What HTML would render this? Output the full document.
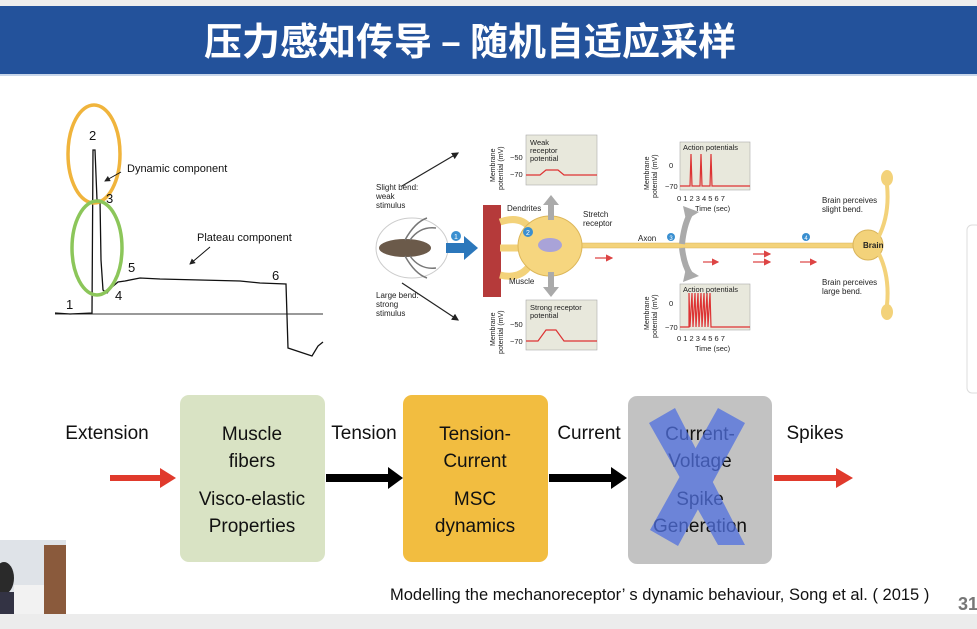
<!DOCTYPE html>
<html><head><meta charset="utf-8"><style>
html,body{margin:0;padding:0;background:#fff;}
body{width:977px;height:629px;overflow:hidden;position:relative;font-family:"Liberation Sans","Noto Sans CJK SC",sans-serif;}
</style></head><body>
<svg width="977" height="629" viewBox="0 0 977 629" xmlns="http://www.w3.org/2000/svg" style="position:absolute;left:0;top:0">
<defs>
<marker id="ah" markerWidth="6" markerHeight="6" refX="5" refY="3" orient="auto"><path d="M0,0 L6,3 L0,6 z" fill="#222"/></marker>
<marker id="rh" markerWidth="6" markerHeight="6" refX="5" refY="3" orient="auto"><path d="M0,0 L6,3 L0,6 z" fill="#d44"/></marker>
</defs>
<rect x="0" y="0" width="977" height="6" fill="#eeeeee"/>
<rect x="0" y="6" width="977" height="68" fill="#23529b"/>
<rect x="0" y="74" width="977" height="2" fill="#c8d6ea"/>
<text x="470" y="55" text-anchor="middle" font-size="38" font-weight="bold" fill="#fff" font-family="'Noto Sans CJK SC','WenQuanYi Zen Hei',sans-serif">压力感知传导 – 随机自适应采样</text>
<rect x="0" y="614" width="977" height="15" fill="#ececec"/>
<rect x="967" y="225" width="14" height="168" rx="5" fill="#fff" stroke="#ddd"/>

<!-- left trace -->
<line x1="55" y1="314" x2="323" y2="314" stroke="#333" stroke-width="1"/>
<polyline fill="none" stroke="#111" stroke-width="1.3" points="55,313 70,314 92,313 93,150 95,150 97,200 100,200 101,260 103,290 107,293 112,287 118,282 125,281 140,278 160,279 200,280 240,281 260,283 286,284 288,348 300,352 312,356 318,346 323,342"/>
<ellipse cx="94" cy="154" rx="26" ry="49" fill="none" stroke="#f0b43c" stroke-width="3.5"/>
<ellipse cx="97" cy="248" rx="25" ry="47" fill="none" stroke="#8cc65a" stroke-width="3.5"/>
<g font-size="13" fill="#111"><text x="89" y="140">2</text><text x="106" y="203">3</text><text x="115" y="300">4</text><text x="128" y="272">5</text><text x="272" y="280">6</text><text x="66" y="309">1</text></g>
<g font-size="11" fill="#111"><text x="127" y="172">Dynamic component</text><text x="197" y="241">Plateau component</text></g>
<line x1="121" y1="172" x2="105" y2="181" stroke="#111" marker-end="url(#ah)"/>
<line x1="210" y1="247" x2="190" y2="264" stroke="#111" marker-end="url(#ah)"/>

<!-- neuron figure -->
<g font-size="8" fill="#222">
<text x="376" y="190">Slight bend:</text><text x="376" y="199">weak</text><text x="376" y="208">stimulus</text>
<text x="376" y="298">Large bend:</text><text x="376" y="307">strong</text><text x="376" y="316">stimulus</text>
</g>
<line x1="402" y1="186" x2="458" y2="153" stroke="#222" stroke-width="1.2" marker-end="url(#ah)"/>
<line x1="402" y1="283" x2="458" y2="320" stroke="#222" stroke-width="1.2" marker-end="url(#ah)"/>
<ellipse cx="412" cy="248" rx="36" ry="30" fill="none" stroke="#ccc"/>
<ellipse cx="405" cy="248" rx="26" ry="9" fill="#6b5a4a"/>
<g stroke="#777" stroke-width="1.5" fill="none"><path d="M405,240 q10,-18 22,-22"/><path d="M410,240 q10,-14 26,-12"/><path d="M405,256 q10,18 22,22"/><path d="M410,256 q10,14 26,12"/></g>
<rect x="446" y="243" width="20" height="10" fill="#2b77bb"/><path d="M464,236 L478,248 L464,260 z" fill="#2b77bb"/>
<circle cx="456" cy="236" r="5" fill="#3a8fd0"/><text x="456" y="239" font-size="7" fill="#fff" text-anchor="middle">1</text>
<rect x="483" y="205" width="18" height="92" fill="#b53a3a"/>
<rect x="548" y="243" width="325" height="5" fill="#f3d27a" stroke="#d9b45a" stroke-width="0.5"/>
<path d="M500,222 Q520,215 530,228 M500,248 L525,248 M500,275 Q520,280 530,265" stroke="#f3d27a" stroke-width="7" fill="none"/>
<ellipse cx="550" cy="246" rx="32" ry="30" fill="#f6d67f" stroke="#dcb659"/>
<ellipse cx="550" cy="245" rx="12" ry="7" fill="#a9a3d8"/>
<circle cx="528" cy="232" r="5" fill="#3a8fd0"/><text x="528" y="235" font-size="7" fill="#fff" text-anchor="middle">2</text>
<g font-size="8" fill="#222"><text x="507" y="211">Dendrites</text><text x="583" y="217">Stretch</text><text x="583" y="226">receptor</text><text x="509" y="284">Muscle</text><text x="638" y="241">Axon</text></g>
<path d="M548,220 L548,205 L543,205 L551,195 L559,205 L554,205 L554,220z" fill="#aaa"/>
<path d="M548,272 L548,287 L543,287 L551,297 L559,287 L554,287 L554,272z" fill="#aaa"/>
<circle cx="671" cy="237" r="4" fill="#3a8fd0"/><text x="671" y="240" font-size="6" fill="#fff" text-anchor="middle">3</text>
<circle cx="806" cy="237" r="4" fill="#3a8fd0"/><text x="806" y="240" font-size="6" fill="#fff" text-anchor="middle">4</text>
<!-- gray curved arrows -->
<path d="M682,244 Q684,225 690,214" stroke="#aaa" stroke-width="6" fill="none"/>
<path d="M683,206 L699,212 L686,220z" fill="#aaa"/>
<path d="M682,248 Q684,265 690,274" stroke="#aaa" stroke-width="6" fill="none"/>
<path d="M683,282 L699,276 L686,268z" fill="#aaa"/>
<g stroke="#d44" stroke-width="1.2"><line x1="595" y1="258" x2="612" y2="258" marker-end="url(#rh)"/><line x1="703" y1="262" x2="718" y2="262" marker-end="url(#rh)"/><line x1="753" y1="254" x2="770" y2="254" marker-end="url(#rh)"/><line x1="753" y1="262" x2="770" y2="262" marker-end="url(#rh)"/><line x1="800" y1="262" x2="816" y2="262" marker-end="url(#rh)"/></g>
<circle cx="868" cy="245" r="15" fill="#f3d27a" stroke="#d9b45a"/>
<path d="M878,238 Q890,215 887,185 M878,252 Q890,275 887,305" stroke="#f3d27a" stroke-width="4" fill="none"/>
<ellipse cx="887" cy="178" rx="6" ry="8" fill="#f3d27a"/><ellipse cx="887" cy="312" rx="6" ry="8" fill="#f3d27a"/>
<text x="863" y="248" font-size="8" font-weight="bold" fill="#222">Brain</text>
<g font-size="8" fill="#222"><text x="822" y="203">Brain perceives</text><text x="822" y="212">slight bend.</text><text x="822" y="285">Brain perceives</text><text x="822" y="294">large bend.</text></g>
<!-- graphs -->
<g fill="#e8e8dc" stroke="#aaa" stroke-width="0.6">
<rect x="526" y="135" width="71" height="50"/><rect x="526" y="300" width="71" height="50"/>
<rect x="680" y="142" width="70" height="48"/><rect x="680" y="284" width="70" height="46"/></g>
<g fill="none" stroke="#d33" stroke-width="1.2">
<polyline points="526,175 540,175 546,170 558,170 564,175 597,175"/>
<polyline points="526,341 538,341 546,330 556,330 564,341 597,341"/>
<polyline points="680,186 690,186 691,154 692,186 700,186 701,154 702,186 710,186 711,154 712,186 750,186"/>
<polyline points="680,327 689,327 689,293 690,327 692,293 693,327 695,293 696,327 698,293 699,327 701,293 702,327 704,293 705,327 707,293 708,327 710,293 711,327 750,327"/>
</g>
<g font-size="7.5" fill="#222">
<text x="530" y="145">Weak</text><text x="530" y="153">receptor</text><text x="530" y="161">potential</text>
<text x="530" y="310">Strong receptor</text><text x="530" y="318">potential</text>
<text x="683" y="150">Action potentials</text><text x="683" y="292">Action potentials</text>
<text x="510" y="160">−50</text><text x="510" y="177">−70</text><text x="510" y="327">−50</text><text x="510" y="344">−70</text>
<text x="669" y="168">0</text><text x="665" y="189">−70</text><text x="669" y="306">0</text><text x="665" y="330">−70</text>
<text x="677" y="201">0 1 2 3 4 5 6 7</text><text x="695" y="211">Time (sec)</text>
<text x="677" y="341">0 1 2 3 4 5 6 7</text><text x="695" y="351">Time (sec)</text>
</g>
<g font-size="7" fill="#222"><text transform="translate(495,182) rotate(-90)">Membrane</text><text transform="translate(503,190) rotate(-90)">potential (mV)</text>
<text transform="translate(495,346) rotate(-90)">Membrane</text><text transform="translate(503,354) rotate(-90)">potential (mV)</text>
<text transform="translate(649,190) rotate(-90)">Membrane</text><text transform="translate(657,198) rotate(-90)">potential (mV)</text>
<text transform="translate(649,330) rotate(-90)">Membrane</text><text transform="translate(657,338) rotate(-90)">potential (mV)</text></g>

<!-- flow diagram -->
<rect x="180" y="395" width="145" height="167" rx="9" fill="#d9e3c4"/>
<rect x="403" y="395" width="145" height="167" rx="9" fill="#f2bd40"/>
<rect x="628" y="396" width="144" height="168" rx="9" fill="#c2c2c2"/>
<g font-size="19" fill="#111" text-anchor="middle" font-family="'Liberation Sans Narrow','Liberation Sans',sans-serif">
<text x="107" y="439">Extension</text><text x="364" y="439">Tension</text><text x="589" y="439">Current</text><text x="815" y="439">Spikes</text>
<text x="252" y="440">Muscle</text><text x="252" y="467">fibers</text><text x="252" y="505">Visco-elastic</text><text x="252" y="532">Properties</text>
<text x="475" y="440">Tension-</text><text x="475" y="467">Current</text><text x="475" y="505">MSC</text><text x="475" y="532">dynamics</text>
<text x="700" y="440">Current-</text><text x="700" y="467">Voltage</text><text x="700" y="505">Spike</text><text x="700" y="532">Generation</text>
</g>
<g opacity="0.75" fill="#5070e0">
<polygon points="649,423 675,408 745,545 718,545"/>
<polygon points="718,408 745,423 678,546 650,530"/>
</g>
<rect x="110" y="475" width="52" height="6" fill="#e03a2c"/><path d="M160,468 L176,478 L160,488z" fill="#e03a2c"/>
<rect x="326" y="474" width="64" height="8" fill="#000"/><path d="M388,467 L403,478 L388,489z" fill="#000"/>
<rect x="549" y="474" width="64" height="8" fill="#000"/><path d="M611,467 L627,478 L611,489z" fill="#000"/>
<rect x="774" y="475" width="64" height="6" fill="#e03a2c"/><path d="M836,468 L853,478 L836,488z" fill="#e03a2c"/>
<text x="390" y="600" font-size="16.5" fill="#111" font-family="'Liberation Sans Narrow','Liberation Sans',sans-serif">Modelling the mechanoreceptor’  s dynamic behaviour, Song et al. ( 2015 )</text>
<text x="958" y="610" font-size="18" font-weight="bold" fill="#777">31</text>
<!-- webcam -->
<rect x="0" y="540" width="66" height="74" fill="#dfe3e8"/>
<rect x="44" y="545" width="22" height="69" fill="#8a5a3c"/>
<rect x="14" y="585" width="30" height="29" fill="#f2f2f2"/>
<ellipse cx="4" cy="578" rx="10" ry="16" fill="#2a2a2a"/>
<rect x="0" y="592" width="14" height="22" fill="#334"/>
</svg>
</body></html>
